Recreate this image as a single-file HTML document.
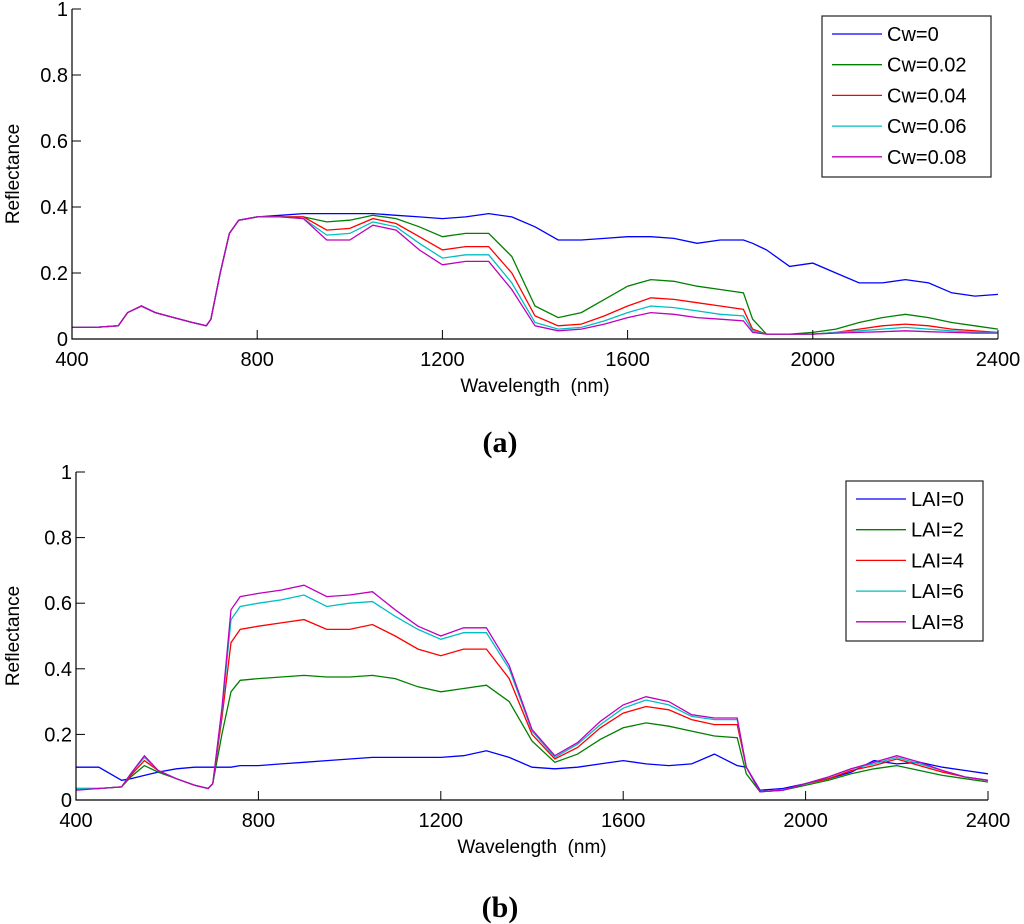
<!DOCTYPE html>
<html><head><meta charset="utf-8"><style>
html,body{margin:0;padding:0;background:#fff;}
svg{display:block;font-family:"Liberation Sans",Arial,sans-serif;}
</style></head><body>
<svg id="fig" width="1024" height="924" viewBox="0 0 1024 924" xmlns="http://www.w3.org/2000/svg"></svg>
<script>
const wl = [400,450,500,520,550,580,620,660,690,700,720,740,760,800,850,900,950,1000,1050,1100,1150,1200,1250,1300,1350,1400,1450,1500,1550,1600,1650,1700,1750,1800,1850,1870,1900,1950,2000,2050,2100,2150,2200,2250,2300,2350,2400];
const xTicks = [400,800,1200,1600,2000,2400];
const yTicks = [0,0.2,0.4,0.6,0.8,1];
const yTickLabels = ["0","0.2","0.4","0.6","0.8","1"];
const colors = ["#0000ff","#008000","#ff0000","#00bfbf","#bf00bf"];
const cwLabels = ["Cw=0","Cw=0.02","Cw=0.04","Cw=0.06","Cw=0.08"];
const laiLabels = ["LAI=0","LAI=2","LAI=4","LAI=6","LAI=8"];
const cw0 = [.035,.035,.04,.08,.1,.08,.065,.05,.04,.06,.2,.32,.36,.37,.375,.38,.38,.38,.38,.375,.37,.365,.37,.38,.37,.34,.30,.30,.305,.31,.31,.305,.29,.30,.30,.29,.27,.22,.23,.2,.17,.17,.18,.17,.14,.13,.135];
const cw2 = [.035,.035,.04,.08,.1,.08,.065,.05,.04,.06,.2,.32,.36,.37,.37,.37,.355,.36,.375,.365,.34,.31,.32,.32,.25,.1,.065,.08,.12,.16,.18,.175,.16,.15,.14,.06,.015,.015,.02,.03,.05,.065,.075,.065,.05,.04,.03];
const cw4 = [.035,.035,.04,.08,.1,.08,.065,.05,.04,.06,.2,.32,.36,.37,.37,.37,.33,.335,.365,.35,.31,.27,.28,.28,.2,.07,.04,.045,.07,.1,.125,.12,.11,.1,.09,.03,.015,.015,.015,.02,.03,.04,.045,.04,.03,.025,.02];
const cw6 = [.035,.035,.04,.08,.1,.08,.065,.05,.04,.06,.2,.32,.36,.37,.37,.365,.315,.32,.355,.34,.29,.245,.255,.255,.17,.05,.03,.035,.055,.08,.1,.095,.085,.075,.07,.025,.015,.015,.015,.02,.025,.03,.035,.03,.025,.02,.02];
const cw8 = [.035,.035,.04,.08,.1,.08,.065,.05,.04,.06,.2,.32,.36,.37,.37,.365,.3,.3,.345,.33,.27,.225,.235,.235,.15,.04,.025,.03,.045,.065,.08,.075,.065,.06,.055,.02,.015,.015,.015,.018,.02,.022,.025,.022,.02,.018,.018];
const lai0 = [.1,.1,.06,.065,.075,.085,.095,.1,.1,.1,.1,.1,.105,.105,.11,.115,.12,.125,.13,.13,.13,.13,.135,.15,.13,.1,.095,.1,.11,.12,.11,.105,.11,.14,.105,.1,.03,.035,.05,.065,.085,.12,.11,.115,.1,.09,.08];
const lai2 = [.035,.035,.04,.07,.105,.085,.065,.045,.035,.05,.2,.33,.365,.37,.375,.38,.375,.375,.38,.37,.345,.33,.34,.35,.3,.18,.115,.14,.185,.22,.235,.225,.21,.195,.19,.08,.025,.03,.045,.06,.08,.095,.105,.09,.075,.065,.055];
const lai4 = [.035,.035,.04,.075,.12,.09,.065,.045,.035,.05,.25,.48,.52,.53,.54,.55,.52,.52,.535,.5,.46,.44,.46,.46,.37,.2,.125,.16,.22,.265,.285,.275,.245,.23,.23,.1,.025,.03,.05,.065,.09,.105,.125,.105,.085,.07,.06];
const lai6 = [.035,.035,.04,.08,.13,.09,.065,.045,.035,.05,.27,.55,.59,.6,.61,.625,.59,.6,.605,.56,.52,.49,.51,.51,.4,.21,.13,.17,.23,.28,.305,.29,.255,.245,.245,.1,.025,.03,.05,.07,.095,.11,.13,.11,.09,.07,.06];
const lai8 = [.03,.035,.04,.08,.135,.09,.065,.045,.035,.05,.28,.58,.62,.63,.64,.655,.62,.625,.635,.58,.53,.5,.525,.525,.41,.215,.135,.175,.24,.29,.315,.3,.26,.25,.25,.1,.025,.03,.05,.07,.095,.115,.135,.115,.09,.07,.06];

const NS="http://www.w3.org/2000/svg";
const svg=document.getElementById('fig');
function mk(tag,attrs,parent){const e=document.createElementNS(NS,tag);for(const k in attrs)e.setAttribute(k,attrs[k]);(parent||svg).appendChild(e);return e;}

function panel(id,L,R,T,B,series,labels,leg,caption,capY){
  const g=mk('g',{});
  
  
  const sx=v=>L+(v-400)/2000*(R-L);
  const sy=v=>B-v*(B-T);
  series.forEach((s,i)=>{
    const d=s.map((v,j)=>(j?'L':'M')+sx(wl[j]).toFixed(1)+','+sy(v).toFixed(1)).join('');
    const p=mk('path',{d:d,fill:'none',stroke:colors[i],'stroke-width':1.3},g);
    
    
  });
  const ax=mk('path',{d:`M${L},${T}V${B}H${R}`,fill:'none',stroke:'#000','stroke-width':1.2},g);
  
  
  xTicks.forEach(v=>{
    mk('line',{x1:sx(v),x2:sx(v),y1:B,y2:B-9,stroke:'#000','stroke-width':1},g);
    const t=mk('text',{x:sx(v),y:B+27,'text-anchor':'middle','font-size':20},g);
    t.textContent=v;
    
    
  });
  yTicks.forEach((v,i)=>{
    mk('line',{x1:L,x2:L+9,y1:sy(v),y2:sy(v),stroke:'#000','stroke-width':1},g);
    const t=mk('text',{x:L-4,y:sy(v)+7,'text-anchor':'end','font-size':20},g);
    t.textContent=yTickLabels[i];
    
    
  });
  const xl=mk('text',{x:(L+R)/2,y:B+53,'text-anchor':'middle','font-size':19},g);
  xl.textContent='Wavelength\u00a0 (nm)';
  
  
  const yl=mk('text',{x:0,y:0,'text-anchor':'middle','font-size':19,transform:`translate(19,${(T+B)/2}) rotate(-90)`},g);
  yl.textContent='Reflectance';
  
  
  const lg=mk('g',{},g);
  
  
  mk('rect',{x:leg.x,y:leg.y,width:leg.w,height:leg.h,fill:'#fff',stroke:'#222','stroke-width':1.2},lg);
  labels.forEach((lb,i)=>{
    const yy=leg.y+18+i*30.7;
    mk('line',{x1:leg.x+10,x2:leg.x+60,y1:yy,y2:yy,stroke:colors[i],'stroke-width':1.3},lg);
    const t=mk('text',{x:leg.x+65,y:yy+7,'font-size':20},lg);
    t.textContent=lb;
    
    
  });
  const c=mk('text',{x:500,y:capY,'text-anchor':'middle','font-size':30,'font-weight':'bold','font-family':'"Liberation Serif",serif'},g);
  c.textContent=caption;
  
  
}
panel('panel-a-chart',72,998,9,339,[cw0,cw2,cw4,cw6,cw8],cwLabels,{x:822,y:16,w:169,h:161},'(a)',452);
panel('panel-b-chart',76,988,472,800,[lai0,lai2,lai4,lai6,lai8],laiLabels,{x:846,y:481,w:137,h:160},'(b)',917);
</script>
</body></html>
